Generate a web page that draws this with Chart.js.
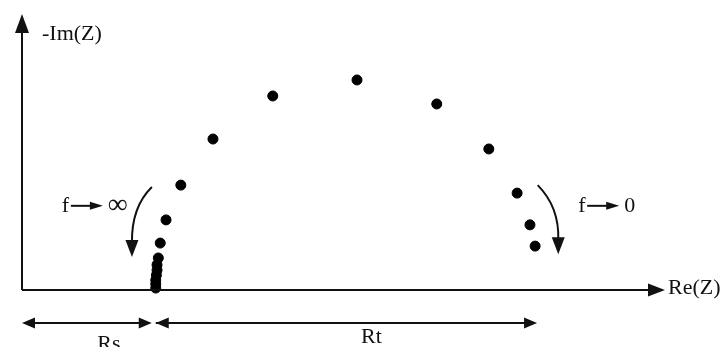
<!DOCTYPE html>
<html>
<head>
<meta charset="utf-8">
<script src="https://cdn.jsdelivr.net/npm/chart.js@4/dist/chart.umd.min.js"></script>
<style>
  html, body { margin: 0; padding: 0; background: #fff; }
  #wrap { width: 728px; height: 347px; position: relative; }
</style>
</head>
<body>
<div id="wrap"><canvas id="nyquist"></canvas></div>
<script>
// Nyquist points, Re(Z) and -Im(Z) in arbitrary units (0..100 on both axes)
const reZ = [20.8, 20.8, 20.8, 20.9, 21.0, 21.0, 21.2, 21.5, 22.4, 24.7, 29.7, 39.0, 52.1, 64.5, 72.6, 77.0, 79.0, 79.8];
const imZ = [0.7, 2.2, 3.6, 5.4, 7.2, 9.1, 11.6, 17.0, 25.4, 38.0, 54.7, 70.3, 76.1, 67.4, 51.1, 35.1, 23.6, 15.9];

// resistances shown under the axis
const rsEnd = 20.8;
const rtEnd = 80.1;

const axisLabels = ["Re(Z)", "-Im(Z)"];
const freqLabels = ["f", "∞", "0"];
const resLabels = ["Rs", "Rt"];

const points = reZ.map((x, i) => ({ x: x, y: imZ[i] }));

const serif = '"Liberation Serif", "DejaVu Serif", serif';

function arrowHead(ctx, x, y, angle, len, half) {
  ctx.save();
  ctx.translate(x, y);
  ctx.rotate(angle);
  ctx.beginPath();
  ctx.moveTo(0, 0);
  ctx.lineTo(-len, -half);
  ctx.lineTo(-len, half);
  ctx.closePath();
  ctx.fill();
  ctx.restore();
}

function freqLabel(ctx, x, y, end, endSize) {
  ctx.font = "22px " + serif;
  ctx.textBaseline = "middle";
  ctx.textAlign = "left";
  ctx.fillText(freqLabels[0], x, y);
  ctx.lineWidth = 2;
  ctx.beginPath();
  ctx.moveTo(x + 9, y);
  ctx.lineTo(x + 30, y);
  ctx.stroke();
  arrowHead(ctx, x + 41, y, 0, 13, 4);
  ctx.font = endSize + "px " + serif;
  ctx.fillText(end, x + 46, y);
}

const annotations = {
  id: "annotations",
  afterDraw(chart) {
    const ctx = chart.ctx;
    const xs = chart.scales.x, ys = chart.scales.y;
    const area = chart.chartArea;
    const x0 = xs.getPixelForValue(0), y0 = ys.getPixelForValue(0);
    ctx.save();
    ctx.fillStyle = "#111";
    ctx.strokeStyle = "#111";

    // axes with arrows
    ctx.lineWidth = 2;
    ctx.beginPath();
    ctx.moveTo(x0, y0);
    ctx.lineTo(area.right - 12, y0);
    ctx.moveTo(x0, y0);
    ctx.lineTo(x0, area.top + 12);
    ctx.stroke();
    arrowHead(ctx, area.right, y0, 0, 17, 6.5);
    arrowHead(ctx, x0, area.top, -Math.PI / 2, 19, 7);

    ctx.font = "22px " + serif;
    ctx.textBaseline = "middle";
    ctx.textAlign = "left";
    ctx.fillText(axisLabels[0], area.right + 3, y0 - 2);
    ctx.fillText(axisLabels[1], x0 + 20, area.top + 20);

    // Rs / Rt dimension arrows
    const yd = y0 + 33;
    const xRs = xs.getPixelForValue(rsEnd), xRt = xs.getPixelForValue(rtEnd);
    ctx.lineWidth = 2;
    ctx.beginPath();
    ctx.moveTo(x0 + 8, yd);
    ctx.lineTo(xRs - 12, yd);
    ctx.moveTo(xRs, yd);
    ctx.lineTo(xRt - 8, yd);
    ctx.stroke();
    arrowHead(ctx, x0, yd, Math.PI, 13, 5.5);
    arrowHead(ctx, xRs - 4, yd, 0, 13, 5.5);
    arrowHead(ctx, xRs, yd, Math.PI, 13, 5.5);
    arrowHead(ctx, xRt, yd, 0, 13, 5.5);
    ctx.textAlign = "center";
    ctx.textBaseline = "alphabetic";
    ctx.fillText(resLabels[0], (x0 + xRs) / 2 + 20, yd + 27);
    ctx.fillText(resLabels[1], (xRs + xRt) / 2 + 25, yd + 20);

    // curved arrows for frequency direction
    ctx.lineWidth = 2;
    const sx1 = xs.getPixelForValue(20.2), sy1 = ys.getPixelForValue(37.3);
    const cx1 = xs.getPixelForValue(17.0), cy1 = ys.getPixelForValue(30);
    const ex1 = xs.getPixelForValue(17.1), ey1 = ys.getPixelForValue(17);
    ctx.beginPath();
    ctx.moveTo(sx1, sy1);
    ctx.quadraticCurveTo(cx1, cy1, ex1, ey1);
    ctx.stroke();
    arrowHead(ctx, ex1, ey1 + 14, Math.PI / 2, 17, 6.5);

    const sx2 = xs.getPixelForValue(80.2), sy2 = ys.getPixelForValue(38);
    const cx2 = xs.getPixelForValue(83.6), cy2 = ys.getPixelForValue(30);
    const ex2 = xs.getPixelForValue(83.4), ey2 = ys.getPixelForValue(18);
    ctx.beginPath();
    ctx.moveTo(sx2, sy2);
    ctx.quadraticCurveTo(cx2, cy2, ex2, ey2);
    ctx.stroke();
    arrowHead(ctx, ex2, ey2 + 14, Math.PI / 2, 17, 6.5);

    freqLabel(ctx, xs.getPixelForValue(6.2), ys.getPixelForValue(30.5), freqLabels[1], 28);
    freqLabel(ctx, xs.getPixelForValue(86.5), ys.getPixelForValue(30.5), freqLabels[2], 22);

    ctx.restore();
  }
};

new Chart(document.getElementById("nyquist"), {
  type: "scatter",
  data: {
    datasets: [{
      data: points,
      backgroundColor: "#000",
      borderColor: "#000",
      pointRadius: 5,
      pointHoverRadius: 5,
      clip: false
    }]
  },
  options: {
    responsive: true,
    maintainAspectRatio: false,
    animation: false,
    layout: { padding: { left: 22, right: 63, top: 14, bottom: 57 } },
    plugins: { legend: { display: false }, tooltip: { enabled: false } },
    scales: {
      x: { type: "linear", min: 0, max: 100, display: false },
      y: { type: "linear", min: 0, max: 100, display: false }
    }
  },
  plugins: [annotations]
});
</script>
</body>
</html>
